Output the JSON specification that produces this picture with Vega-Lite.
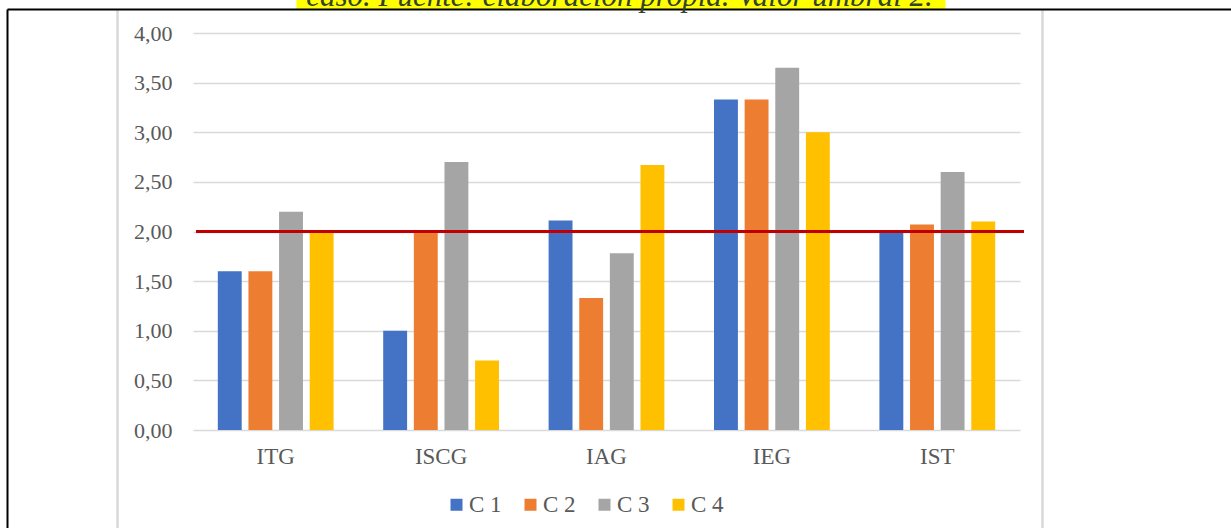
{
  "$schema": "https://vega.github.io/schema/vega-lite/v6.json",
  "width": 1224,
  "height": 519,
  "autosize": {"type": "none"},
  "padding": {"left": 7, "top": 9, "right": 0, "bottom": 0},
  "background": "white",
  "config": {"view": {"stroke": null}, "font": "Liberation Serif"},
  "datasets": {
    "scores": [
      {"indice": "ITG", "serie": "C 1", "valor": 1.6},
      {"indice": "ITG", "serie": "C 2", "valor": 1.6},
      {"indice": "ITG", "serie": "C 3", "valor": 2.2},
      {"indice": "ITG", "serie": "C 4", "valor": 2.0},
      {"indice": "ISCG", "serie": "C 1", "valor": 1.0},
      {"indice": "ISCG", "serie": "C 2", "valor": 2.0},
      {"indice": "ISCG", "serie": "C 3", "valor": 2.7},
      {"indice": "ISCG", "serie": "C 4", "valor": 0.7},
      {"indice": "IAG", "serie": "C 1", "valor": 2.11},
      {"indice": "IAG", "serie": "C 2", "valor": 1.33},
      {"indice": "IAG", "serie": "C 3", "valor": 1.78},
      {"indice": "IAG", "serie": "C 4", "valor": 2.67},
      {"indice": "IEG", "serie": "C 1", "valor": 3.33},
      {"indice": "IEG", "serie": "C 2", "valor": 3.33},
      {"indice": "IEG", "serie": "C 3", "valor": 3.65},
      {"indice": "IEG", "serie": "C 4", "valor": 3.0},
      {"indice": "IST", "serie": "C 1", "valor": 2.0},
      {"indice": "IST", "serie": "C 2", "valor": 2.07},
      {"indice": "IST", "serie": "C 3", "valor": 2.6},
      {"indice": "IST", "serie": "C 4", "valor": 2.1}
    ]
  },
  "layer": [
    {
      "data": {"values": [{"resalte": 0}]},
      "mark": {"type": "text", "text": ""},
      "encoding": {
        "x": {"field": "resalte", "type": "quantitative", "scale": {"domain": [0, 1], "range": [289, 938], "nice": false, "zero": false}, "axis": null},
        "y": {
          "field": "resalte", "type": "quantitative",
          "scale": {"domain": [0, 1], "range": [-5, 100], "nice": false, "zero": false},
          "axis": {"orient": "left", "title": null, "labels": false, "ticks": false, "domain": false, "grid": true, "values": [0], "gridColor": "#FFFF00", "gridWidth": 9, "gridOpacity": 1}
        }
      }
    },
    {
      "data": {"values": [{"marco": 0}]},
      "mark": {"type": "text", "text": ""},
      "encoding": {
        "x": {
          "field": "marco", "type": "quantitative",
          "scale": {"domain": [0, 1224], "nice": false, "zero": false},
          "axis": {"orient": "top", "title": "caso. Fuente: elaboración propia. Valor umbral 2.", "titleFont": "Liberation Serif", "titleFontStyle": "italic", "titleFontWeight": "normal", "titleFontSize": 31, "titleColor": "#34432f", "titleBaseline": "alphabetic", "titleAnchor": "middle", "titleY": -4, "labels": false, "ticks": false, "domain": true, "domainColor": "#000000", "domainWidth": 2, "grid": true, "values": [110.3, 1035], "gridColor": "#d9d9d9", "gridWidth": 2.5}
        },
        "y": {
          "field": "marco", "type": "quantitative",
          "scale": {"domain": [0, 1], "nice": false},
          "axis": {"orient": "left", "title": null, "labels": false, "ticks": false, "domain": true, "domainColor": "#000000", "domainWidth": 2, "grid": false}
        }
      }
    },
    {
      "data": {"name": "scores"},
      "mark": {"type": "bar"},
      "encoding": {
        "x": {
          "field": "indice", "type": "nominal",
          "sort": ["ITG", "ISCG", "IAG", "IEG", "IST"],
          "scale": {"range": [186, 1013], "paddingInner": 0.3, "paddingOuter": 0.15},
          "axis": {"orient": "bottom", "offset": -98, "title": null, "domain": false, "ticks": false, "labelAngle": 0, "labelFont": "Liberation Serif", "labelFontSize": 23, "labelColor": "#595959", "labelPadding": 15, "grid": false}
        },
        "xOffset": {
          "field": "serie", "type": "nominal",
          "sort": ["C 1", "C 2", "C 3", "C 4"],
          "scale": {"paddingInner": 0.22}
        },
        "y": {
          "field": "valor", "type": "quantitative",
          "scale": {"domain": [0, 4], "range": [421, 24], "nice": false},
          "axis": {"orient": "left", "offset": -186, "title": null, "values": [0, 0.5, 1, 1.5, 2, 2.5, 3, 3.5, 4], "labelExpr": "replace(format(datum.value, '.2f'), '.', ',')", "domain": false, "ticks": false, "labelPadding": 21, "labelFont": "Liberation Serif", "labelFontSize": 22, "labelColor": "#595959", "grid": true, "gridColor": "#d9d9d9", "gridWidth": 1.5}
        },
        "color": {
          "field": "serie", "type": "nominal",
          "scale": {"domain": ["C 1", "C 2", "C 3", "C 4"], "range": ["#4472C4", "#ED7D31", "#A5A5A5", "#FFC000"]},
          "legend": {"orient": "none", "legendX": 438, "legendY": 484, "direction": "horizontal", "title": null, "symbolType": "square", "symbolSize": 144, "symbolStrokeWidth": 0, "labelFont": "Liberation Serif", "labelFontSize": 23, "labelColor": "#595959", "columnPadding": 17, "labelOffset": 1}
        }
      }
    },
    {
      "data": {"values": [{"umbral": 2, "desde": 0, "hasta": 1}]},
      "mark": {"type": "rule", "color": "#C00000", "strokeWidth": 3},
      "encoding": {
        "x": {"field": "desde", "type": "quantitative", "scale": {"domain": [0, 1], "range": [189, 1017], "nice": false, "zero": false}, "axis": null},
        "x2": {"field": "hasta"},
        "y": {"field": "umbral", "type": "quantitative", "scale": {"domain": [0, 4], "range": [421, 24], "nice": false}, "axis": null}
      }
    }
  ],
  "resolve": {
    "scale": {"x": "independent", "y": "independent"},
    "axis": {"x": "independent", "y": "independent"}
  }
}
